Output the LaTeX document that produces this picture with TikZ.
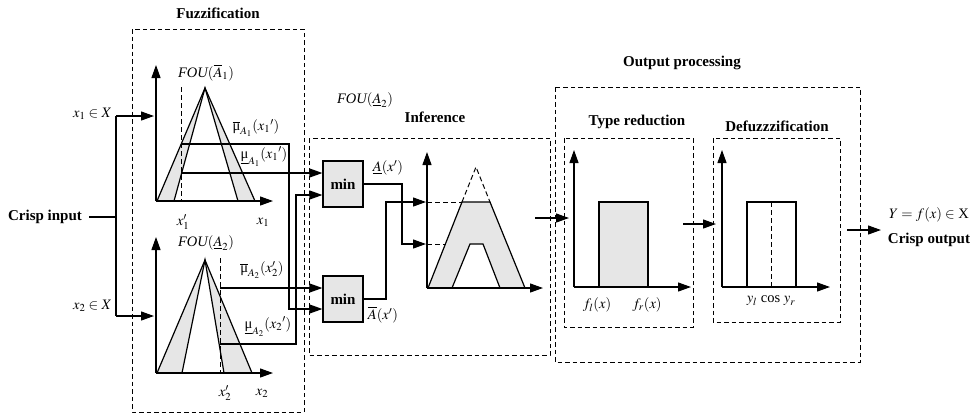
\documentclass[tikz,border=0pt]{standalone}
\usepackage{mathptmx}
\usepackage{fontspec}
\setmainfont{Liberation Serif}
\usetikzlibrary{arrows.meta}
\definecolor{gfill}{HTML}{E6E6E6}
\newcommand{\umu}{\mbox{\normalfont\upshape μ}}
\newcommand{\fou}{\mbox{\normalfont\itshape FOU}}
\tikzset{
  ln/.style={line width=1.2pt},
  arr/.style={line width=1.2pt,-{Triangle[length=13pt,width=9pt]}},
  dbox/.style={draw,line width=1pt,dash pattern=on 4.5pt off 3pt},
  dln/.style={line width=1pt,dash pattern=on 5pt off 3pt},
  ttl/.style={font=\fontsize{15}{17}\selectfont\bfseries,inner sep=1pt},
  lbl/.style={font=\fontsize{14.5}{16}\selectfont,inner sep=1pt},
  minbox/.style={draw,fill=gfill,line width=1.2pt,minimum width=40pt,minimum height=46pt,font=\fontsize{15}{17}\selectfont\bfseries,inner sep=0pt},
}
\begin{document}
\begin{tikzpicture}[x=1pt,y=-1pt]
\useasboundingbox (0,0) rectangle (972,416);
% ---------- titles ----------
\node[ttl] (tfuz) at (218,13) {Fuzzification};
\node[ttl] (tinf) at (435,117) {Inference};
\node[ttl] (tout) at (682,63) {Output processing};
\node[ttl] (ttr) at (637,122) {Type reduction};
\node[ttl] (tdef) at (777,126) {Defuzzzification};
% ---------- dashed boxes ----------
\draw[dbox] (132,29) rectangle (304,412);
\draw[dbox] (309,138) rectangle (550,355);
\draw[dbox] (555,87) rectangle (860,362);
\draw[dbox] (564,138) rectangle (693,327);
\draw[dbox] (713,138) rectangle (840,322);
% ---------- crisp input ----------
\node[ttl] (ci) at (45,217) {Crisp input};
\coordinate (j) at (116,217);
\coordinate (j1) at (116,116);
\coordinate (j2) at (116,316);
\coordinate (in1) at (154,116);
\coordinate (in2) at (154,316);
\draw[ln] ([xshift=6pt]ci.east) -- (j);
\draw[ln] (j1) -- (j2);
\draw[arr] (j1) -- (in1);
\draw[arr] (j2) -- (in2);
\node[lbl,anchor=east] (x1in) at (113,114) {$x_1\in X$};
\node[lbl,anchor=east] (x2in) at (113,306) {$x_2\in X$};
% ---------- top fuzzy set ----------
\coordinate (o1) at (156,201);
\fill[gfill] (157,201) -- (205,88) -- (255,201) -- cycle;
\fill[white] (174,201) -- (205,88) -- (238,201) -- cycle;
\draw[ln] (157,201) -- (205,88) -- (255,201);
\draw[ln] (174,201) -- (205,88) -- (238,201);
\draw[arr] (o1) -- (156,65);
\draw[arr] (o1) -- (273,201);
\draw[dln] (181,87) -- (181,201);
\node[lbl] (fou1) at (206,73) {$\fou(\overline{A}_1)$};
\node[lbl] (x1p) at (183,222) {$x_1'$};
\node[lbl] (x1) at (263,222) {$x_1$};
\node[lbl] (mu1u) at (256,128) {$\overline{\umu}_{A_1}(x_1{}')$};
\node[lbl] (mu1l) at (264,157) {$\underline{\umu}_{A_1}(x_1{}')$};
% ---------- bottom fuzzy set ----------
\coordinate (o2) at (156,373);
\fill[gfill] (157,373) -- (205,260) -- (252,373) -- cycle;
\fill[white] (182,373) -- (205,260) -- (224,373) -- cycle;
\draw[ln] (157,373) -- (205,260) -- (252,373);
\draw[ln] (182,373) -- (205,260) -- (224,373);
\draw[arr] (o2) -- (156,237);
\draw[arr] (o2) -- (273,373);
\draw[dln] (220,258) -- (220,373);
\node[lbl] (fou2) at (206,243) {$\fou(\underline{A}_2)$};
\node[lbl] (x2p) at (225,393) {$x_2'$};
\node[lbl] (x2) at (262,393) {$x_2$};
\node[lbl] (mu2u) at (262,270) {$\overline{\umu}_{A_2}(x_2')$};
\node[lbl] (mu2l) at (268,327) {$\underline{\umu}_{A_2}(x_2{}')$};
% ---------- min boxes ----------
\node[minbox] (min1) at (343,184) {min};
\node[minbox] (min2) at (343,299) {min};
\coordinate (m1a) at ([yshift=11pt]min1.west);
\coordinate (m1b) at ([yshift=-11pt]min1.west);
\coordinate (m2a) at ([yshift=11pt]min2.west);
\coordinate (m2b) at ([yshift=-10pt]min2.west);
\coordinate (s1u) at (181,144);
\coordinate (s1l) at (181,173);
\coordinate (s2u) at (220,288);
\coordinate (s2l) at (220,344);
\draw[arr] (s1u) -- (289,144) |- (m2b);
\draw[arr] (s1l) -- (m1a);
\draw[arr] (s2u) -- (m2a);
\draw[arr] (s2l) -- (296,344) |- (m1b);
\node[lbl] (alow) at (388,168) {$\underline{A}(x')$};
\node[lbl] (aup) at (383,315) {$\overline{A}(x')$};
% ---------- inference plot ----------
\coordinate (o3) at (427,288);
\fill[gfill] (428,288) -- (462,202) -- (490,202) -- (525,288) -- cycle;
\fill[white] (452,288) -- (470,244) -- (483,244) -- (500,288) -- cycle;
\draw[ln] (428,288) -- (462,202) -- (490,202) -- (525,288);
\draw[ln] (452,288) -- (470,244) -- (483,244) -- (500,288);
\draw[dln] (462,202) -- (476,167) -- (490,202);
\draw[dln] (427,202) -- (462,202);
\draw[dln] (427,244) -- (445,244);
\draw[arr] (o3) -- (427,152);
\draw[arr] (o3) -- (543,288);
\coordinate (t1) at (426,244);
\coordinate (t2) at (426,202);
\draw[arr] (min1.east) -- (402,184) |- (t1);
\draw[arr] (min2.east) -- (386,299) |- (t2);
% ---------- output processing ----------
\coordinate (ia) at (535,218);
\coordinate (ib) at (569,218);
\draw[arr] (ia) -- (ib);
% type reduction plot
\coordinate (o4) at (574,287);
\draw[ln,fill=gfill] (599,287) rectangle (648,202);
\draw[arr] (o4) -- (574,150);
\draw[arr] (o4) -- (691,287);
\node[lbl] (fl) at (597,305) {$f_l(x)$};
\node[lbl] (fr) at (647,305) {$f_r(x)$};
\coordinate (ta) at (683,224);
\coordinate (tb) at (716,224);
\draw[arr] (ta) -- (tb);
% defuzz plot
\coordinate (o5) at (722,287);
\draw[ln] (747,287) rectangle (796,202);
\draw[dln] (771,202) -- (771,287);
\draw[arr] (o5) -- (722,150);
\draw[arr] (o5) -- (830,287);
\node[lbl] (ycos) at (771,301) {$y_l$ cos $y_r$};
\coordinate (da) at (847,230);
\coordinate (db) at (881,230);
\draw[arr] (da) -- (db);
\node[lbl] (yout) at (929,215) {$Y=f(x)\in$ X};
\node[ttl] (co) at (929,240) {Crisp output};
% stray label
\node[lbl] (fou3) at (365,100) {$\fou(\underline{A}_2)$};
\end{tikzpicture}
\end{document}
